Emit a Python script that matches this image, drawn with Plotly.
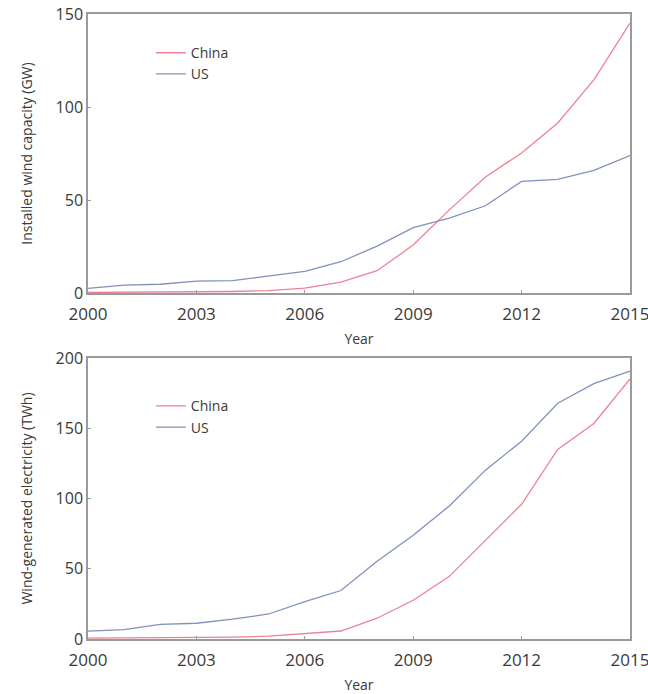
import plotly.graph_objects as go
from plotly.subplots import make_subplots

years = list(range(2000, 2016))
china_capacity = [0.3, 0.4, 0.5, 0.6, 0.8, 1.3, 2.6, 5.9, 12.0, 25.8, 44.7, 62.4, 75.3, 91.4, 114.6, 145.1]
us_capacity = [2.5, 4.2, 4.7, 6.4, 6.7, 9.1, 11.6, 16.8, 25.2, 35.1, 40.2, 46.9, 60.0, 61.1, 65.9, 73.9]
china_generation = [0.6, 0.7, 0.9, 1.0, 1.3, 2.0, 3.7, 5.7, 14.8, 27.6, 44.6, 70.3, 95.9, 134.9, 153.4, 185.1]
us_generation = [5.6, 6.7, 10.4, 11.2, 14.1, 17.8, 26.6, 34.5, 55.4, 73.9, 94.7, 120.2, 140.8, 167.8, 181.7, 190.7]
x_ticks = [2000, 2003, 2006, 2009, 2012, 2015]

CHINA = "#ec8294"
US = "#8290bd"
TXT = "#3a3a3a"
FRAME = "#9a9a9a"
FONT = "Open Sans"

fig = make_subplots(rows=2, cols=1, vertical_spacing=0.1)

fig.add_trace(go.Scatter(x=years, y=china_capacity, mode="lines", name="China",
                         line=dict(color=CHINA, width=1.3), legend="legend"), row=1, col=1)
fig.add_trace(go.Scatter(x=years, y=us_capacity, mode="lines", name="US",
                         line=dict(color=US, width=1.3), legend="legend"), row=1, col=1)
fig.add_trace(go.Scatter(x=years, y=china_generation, mode="lines", name="China",
                         line=dict(color=CHINA, width=1.3), legend="legend2"), row=2, col=1)
fig.add_trace(go.Scatter(x=years, y=us_generation, mode="lines", name="US",
                         line=dict(color=US, width=1.3), legend="legend2"), row=2, col=1)

xcommon = dict(range=[2000, 2015], tickvals=x_ticks, showgrid=False, zeroline=False,
               showline=True, linecolor=FRAME, linewidth=1.5, mirror=True,
               ticks="inside", ticklen=3, tickcolor=FRAME, automargin=False,
               ticklabeloverflow="allow", ticklabelstandoff=5,
               tickfont=dict(family=FONT, size=17, color=TXT),
               title=dict(text="Year", standoff=10, font=dict(family=FONT, size=14, color=TXT)))
ycommon = dict(showgrid=False, zeroline=False, showline=True, linecolor=FRAME, linewidth=1.5,
               mirror=True, ticks="inside", ticklen=3, tickcolor=FRAME, automargin=False,
               ticklabeloverflow="allow",
               tickfont=dict(family=FONT, size=16, color=TXT))

fig.update_xaxes(**xcommon)
fig.update_yaxes(**ycommon)
fig.update_xaxes(domain=[0, 1])
fig.update_layout(
    xaxis=dict(anchor="y"), yaxis=dict(domain=[0.5536, 1.0], range=[0, 150], tickvals=[0, 50, 100, 150],
               title=dict(text="Installed wind capacity (GW)", standoff=20,
                          font=dict(family=FONT, size=14, color=TXT))),
    xaxis2=dict(anchor="y2"), yaxis2=dict(domain=[0.0, 0.4496], range=[0, 200], tickvals=[0, 50, 100, 150, 200],
               title=dict(text="Wind-generated electricity (TWh)", standoff=20,
                          font=dict(family=FONT, size=14, color=TXT))),
    width=648, height=694,
    margin=dict(l=88, r=18, t=14, b=55),
    paper_bgcolor="white", plot_bgcolor="white",
    legend=dict(x=0.116, y=0.963, xanchor="left", yanchor="top", bgcolor="rgba(0,0,0,0)",
                font=dict(family=FONT, size=14, color=TXT), tracegroupgap=0, itemwidth=30),
    legend2=dict(x=0.116, y=0.398, xanchor="left", yanchor="top", bgcolor="rgba(0,0,0,0)",
                 font=dict(family=FONT, size=14, color=TXT), tracegroupgap=0, itemwidth=30),
    showlegend=True,
)

fig.write_html("out.html", config={"displayModeBar": False},
               post_script="document.body.style.margin='0';document.body.style.overflow='hidden';")
